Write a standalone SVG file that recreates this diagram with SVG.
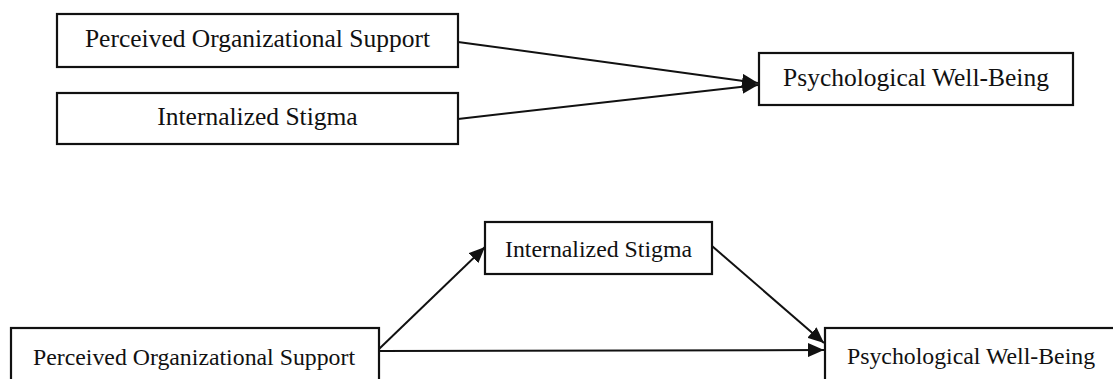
<svg xmlns="http://www.w3.org/2000/svg" width="1113" height="379" viewBox="0 0 1113 379">
<style>
.box{fill:#fff;stroke:#111;stroke-width:2.2}
.lbl{font-family:"Liberation Serif","Times New Roman",serif;font-size:25.5px;fill:#111;text-anchor:middle}
.sm{font-size:23.8px}
.conn{stroke:#111;stroke-width:2;fill:none}
</style>
<defs>
<marker id="ah" markerUnits="userSpaceOnUse" markerWidth="16" markerHeight="14" viewBox="0 0 16 14" refX="16" refY="7" orient="auto">
<path d="M0,0 L16,7 L0,14 Z" fill="#111"/>
</marker>
</defs>
<rect width="1113" height="379" fill="#fff"/>
<g id="n1"><rect class="box" x="57" y="14" width="401" height="53"/><text class="lbl" x="257.5" y="47">Perceived Organizational Support</text></g>
<g id="n2"><rect class="box" x="57" y="93" width="401" height="51"/><text class="lbl" x="257.5" y="125">Internalized Stigma</text></g>
<g id="n3"><rect class="box" x="759" y="53" width="314" height="52"/><text class="lbl" x="916" y="86">Psychological Well-Being</text></g>
<g id="n4"><rect class="box" x="11" y="328" width="368" height="70"/><text class="lbl sm" x="194" y="365">Perceived Organizational Support</text></g>
<g id="n5"><rect class="box" x="485" y="222" width="227" height="52"/><text class="lbl sm" x="598.5" y="257">Internalized Stigma</text></g>
<g id="n6"><rect class="box" x="825" y="328" width="320" height="70"/><text class="lbl sm" x="971" y="364">Psychological Well-Being</text></g>
<g id="connectors">
<line class="conn" x1="458" y1="42" x2="758" y2="83" marker-end="url(#ah)"/>
<line class="conn" x1="458" y1="119" x2="758" y2="85" marker-end="url(#ah)"/>
<line class="conn" x1="379" y1="349" x2="485" y2="247" marker-end="url(#ah)"/>
<line class="conn" x1="379" y1="351" x2="824" y2="350" marker-end="url(#ah)"/>
<line class="conn" x1="712" y1="246" x2="824" y2="343" marker-end="url(#ah)"/>
</g>
</svg>
